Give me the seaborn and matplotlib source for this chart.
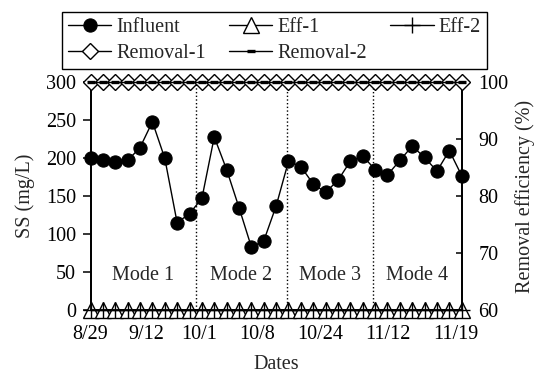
import matplotlib
matplotlib.use("Agg")
import matplotlib.pyplot as plt
import seaborn as sns
import pandas as pd

# ---------------- data ----------------
sample_idx = list(range(31))
influent = [200, 197, 195, 197, 214, 248, 200, 115, 127,
            147, 228, 185, 135, 83, 91, 137, 196,
            189, 166, 155, 171, 196, 203, 185,
            178, 197, 216, 201, 183, 210, 177]
eff_1 = [0] * 31
eff_2 = [0] * 31
removal_1 = [100] * 31
removal_2 = [100] * 31

tick_pos = [0, 4.47, 8.77, 13.49, 18.55, 24.0, 29.52]
tick_labels = ["8/29", "9/12", "10/1", "10/8", "10/24", "11/12", "11/19"]
mode_bounds = [8.5, 15.85, 22.85]
mode_names = ["Mode 1", "Mode 2", "Mode 3", "Mode 4"]

df = pd.DataFrame({"idx": sample_idx, "Influent": influent, "Eff-1": eff_1,
                   "Eff-2": eff_2, "Removal-1": removal_1, "Removal-2": removal_2})

# ---------------- style ----------------
sns.set_style("white")
plt.rcParams["font.family"] = ["Liberation Serif", "DejaVu Serif"]
plt.rcParams["font.size"] = 14.5

fig = plt.figure(figsize=(5.36, 3.75), dpi=100)
fig.subplots_adjust(left=0.1689, right=0.8614, bottom=0.1733, top=0.7805)
ax = fig.add_subplot(111)
ax2 = ax.twinx()

lw = 1.0
common = dict(color="black", linewidth=lw, clip_on=False, markeredgecolor="black")

# Effluents at 0
sns.lineplot(data=df, x="idx", y="Eff-1", ax=ax, marker="^", markersize=11,
             markerfacecolor="white", markeredgewidth=1.0, label="Eff-1", zorder=3, **common)
sns.lineplot(data=df, x="idx", y="Eff-2", ax=ax, marker="+", markersize=11,
             markeredgewidth=1.0, label="Eff-2", zorder=4, **common)
# Influent
sns.lineplot(data=df, x="idx", y="Influent", ax=ax, marker="o", markersize=9.5,
             markerfacecolor="black", markeredgewidth=0.8, label="Influent", zorder=5, **common)

# Removal on right axis
sns.lineplot(data=df, x="idx", y="Removal-1", ax=ax2, marker="D", markersize=8.6,
             markerfacecolor="white", markeredgewidth=1.0, label="Removal-1", zorder=3, **common)
sns.lineplot(data=df, x="idx", y="Removal-2", ax=ax2, marker="_", markersize=6,
             markeredgewidth=2.4, label="Removal-2", zorder=4, **common)

# mode boundaries and labels
for b in mode_bounds:
    ax.axvline(b, color="black", linestyle=":", linewidth=1.0, zorder=1)
edges = [0] + mode_bounds + [30]
for i, name in enumerate(mode_names):
    ax.text((edges[i] + edges[i + 1]) / 2, 40, name, ha="center", va="baseline",
            fontsize=14.5)

# axes
ax.set_xlim(0, 30)
ax.set_ylim(0, 300)
ax2.set_ylim(60, 100)
ax.set_yticks(range(0, 301, 50))
ax2.set_yticks(range(60, 101, 10))
ax.set_xticks(tick_pos)
ax.set_xticklabels(tick_labels)

ax.set_xlabel("Dates", labelpad=8)
ax.set_ylabel("SS (mg/L)", labelpad=8)
ax2.set_ylabel("Removal efficiency (%)", labelpad=5)

for a in (ax, ax2):
    a.spines["top"].set_visible(False)
    for s in ("left", "right", "bottom"):
        a.spines[s].set_color("black")
        a.spines[s].set_linewidth(1.3)
    a.grid(False)

ax.tick_params(axis="y", direction="out", length=5.5, width=1.1, pad=5, colors="black")
ax.tick_params(axis="x", length=0, pad=10.5, colors="black")
ax2.tick_params(axis="y", direction="in", length=4, width=1.1, pad=12, colors="black")

# legend
for a in (ax, ax2):
    lg = a.get_legend()
    if lg is not None:
        lg.remove()
h1, l1 = ax.get_legend_handles_labels()
h2, l2 = ax2.get_legend_handles_labels()
hd = dict(zip(l1 + l2, h1 + h2))
order = ["Influent", "Removal-1", "Eff-1", "Removal-2", "Eff-2"]
leg = fig.legend([hd[k] for k in order], order, ncol=3, loc="upper left",
                 bbox_to_anchor=(62 / 536, 1 - 12 / 375), borderaxespad=0,
                 frameon=True, fancybox=False,
                 edgecolor="black", framealpha=1, borderpad=0.3, labelspacing=0.35,
                 handlelength=2.15, handletextpad=0.25, columnspacing=1.15,
                 fontsize=14.5)
leg.get_frame().set_linewidth(1.0)

fig.savefig("out.png", dpi=100)
